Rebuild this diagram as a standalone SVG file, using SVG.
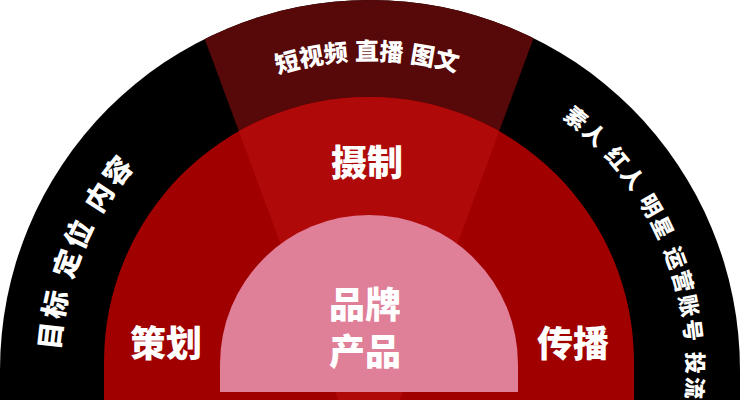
<svg xmlns="http://www.w3.org/2000/svg" xmlns:xlink="http://www.w3.org/1999/xlink" width="741" height="400" viewBox="0 0 741 400">
  <style>
    .t { font-family: "Noto Sans CJK SC", "Noto Sans", sans-serif; font-weight: 900; fill: #ffffff; }
    .arc { dominant-baseline: central; }
  </style>
  <defs>
    <clipPath id="clipOuter"><path d="M0 400 L0 370 A370 370 0 0 1 740 370 L740 400 Z"/></clipPath>
    <clipPath id="clipMid"><path d="M104 400 L104 362 A265 265 0 0 1 634 362 L634 400 Z"/></clipPath>
    <path id="pTop" d="M92 530.5 A321 321 0 1 1 648 530.5"/>
    <path id="pLeft" d="M90.3 531.5 A323 323 0 1 1 649.7 531.5"/>
    <path id="pRight" d="M86.8 533.5 A327 327 0 1 1 653.2 533.5"/>
  </defs>
  <rect width="741" height="400" fill="#ffffff"/>

  <g id="outer-ring">
    <path d="M0 400 L0 370 A370 370 0 0 1 740 370 L740 400 Z" fill="#000000"/>
    <polygon points="369,483 153.3,-100 584.7,-100" fill="#570808" clip-path="url(#clipOuter)"/>
  </g>

  <g id="middle-ring">
    <path d="M104 400 L104 362 A265 265 0 0 1 634 362 L634 400 Z" fill="#a00000"/>
    <polygon points="369,483 153.3,-100 584.7,-100" fill="#b00909" clip-path="url(#clipMid)"/>
  </g>

  <g id="core">
    <path d="M220 392 L220 364 A149 149 0 0 1 518 364 L518 392 Z" fill="#df7f98"/>
  </g>

  <g id="connectors"/>

  <g id="label-top-outer">
    <text class="t arc" font-size="24" letter-spacing="1"><textPath xlink:href="#pTop" startOffset="669.5" text-anchor="middle">短视频 直播 图文</textPath></text>
  </g>
  <g id="label-left-outer">
    <text class="t arc" font-size="28" letter-spacing="4"><textPath xlink:href="#pLeft" startOffset="296" text-anchor="middle">目标 定位 内容</textPath></text>
  </g>
  <g id="label-right-outer">
    <text class="t arc" font-size="22" letter-spacing="3"><textPath xlink:href="#pRight" startOffset="1064" text-anchor="middle">素人 红人 明星 运营账号 投流</textPath></text>
  </g>

  <g id="label-shezhi"><text class="t" x="367" y="176" font-size="36" text-anchor="middle">摄制</text></g>
  <g id="label-cehua"><text class="t" x="166" y="357" font-size="36" text-anchor="middle">策划</text></g>
  <g id="label-chuanbo"><text class="t" x="573" y="357" font-size="36" text-anchor="middle">传播</text></g>
  <g id="label-core">
    <text class="t" x="365" y="318" font-size="36" text-anchor="middle">品牌</text>
    <text class="t" x="365" y="365" font-size="36" text-anchor="middle">产品</text>
  </g>
</svg>
